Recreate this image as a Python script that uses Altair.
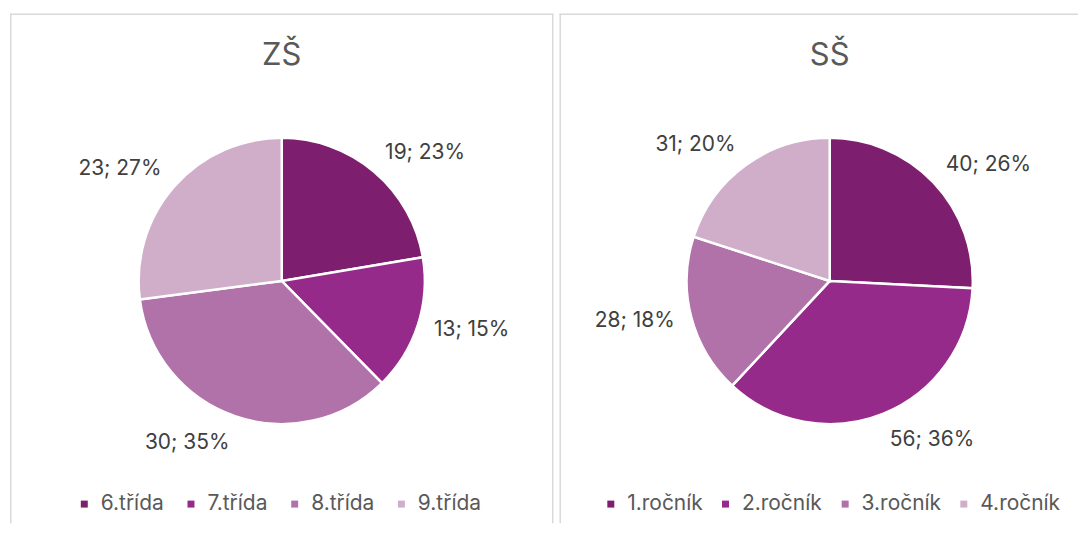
import altair as alt
import pandas as pd

# ---- data ----
zs_title = "ZŠ"
zs_categories = ["6.třída", "7.třída", "8.třída", "9.třída"]
zs_values = [19, 13, 30, 23]
zs_labels = ["19; 23%", "13; 15%", "30; 35%", "23; 27%"]

ss_title = "SŠ"
ss_categories = ["1.ročník", "2.ročník", "3.ročník", "4.ročník"]
ss_values = [40, 56, 28, 31]
ss_labels = ["40; 26%", "56; 36%", "28; 18%", "31; 20%"]

palette = ["#7D1F6E", "#962A8A", "#B072A8", "#D0AECA"]

FONT = "Inter"
W1, W2, H = 545, 520, 515
CX, CY = 272.5, 272
R = 143.5
BORDER = "#D9D9D9"

ALIGN = alt.ExprRef(expr="sin(datum.mid) > 0 ? 'left' : 'right'")
BASELINE = alt.ExprRef(
    expr="abs(cos(datum.mid)) < 0.35 ? 'middle' : (cos(datum.mid) > 0 ? 'alphabetic' : 'top')"
)


def panel(title, cats, vals, labels, width, field, legend_x, col_pad, cx):
    df = pd.DataFrame({field: cats, "value": vals, "label": labels,
                       "idx": list(range(len(cats)))})
    base = alt.Chart(df)
    color = alt.Color(
        f"{field}:N",
        sort=cats,
        scale=alt.Scale(domain=cats, range=palette),
        legend=alt.Legend(
            title=None, orient="none", legendX=legend_x, legendY=485,
            direction="horizontal", columns=4, symbolType="square",
            symbolSize=49, symbolStrokeWidth=0, labelFontSize=21,
            labelFont=FONT, labelColor="#595959", labelOffset=6,
            columnPadding=col_pad, labelLimit=200,
        ),
    )
    arc = base.mark_arc(outerRadius=R, stroke="white", strokeWidth=2.5).encode(
        theta=alt.Theta("value:Q", stack=True),
        color=color,
        order=alt.Order("idx:Q"),
        x=alt.value(cx),
        y=alt.value(CY),
    )
    text = (
        base.transform_joinaggregate(total="sum(value)")
        .transform_window(cum="sum(value)", sort=[alt.SortField("idx")])
        .transform_calculate(mid="2 * PI * (datum.cum - datum.value / 2) / datum.total")
        .mark_text(fontSize=21, font=FONT, color="#404040", align=ALIGN, baseline=BASELINE)
        .encode(
            theta=alt.Theta("value:Q", stack=True),
            order=alt.Order("idx:Q"),
            radius=alt.value(R + 17),
            text="label:N",
            x=alt.value(cx),
            y=alt.value(CY),
        )
    )
    one = alt.Data(values=[{"t": title}])
    ttl = alt.Chart(one).mark_text(fontSize=31, font=FONT, color="#595959",
                                   baseline="middle").encode(
        text="t:N", x=alt.value(cx), y=alt.value(46))
    left = alt.Chart(one).mark_rule(color=BORDER, strokeWidth=1.5).encode(
        x=alt.value(0.75), y=alt.value(4), y2=alt.value(H))
    top = alt.Chart(one).mark_rule(color=BORDER, strokeWidth=1.5).encode(
        x=alt.value(0), x2=alt.value(width), y=alt.value(4.5))
    layers = [left, top, arc, text, ttl]
    if width == W1:
        right = alt.Chart(one).mark_rule(color=BORDER, strokeWidth=1.5).encode(
            x=alt.value(width - 0.75), y=alt.value(4), y2=alt.value(H))
        layers.insert(2, right)
    return alt.layer(*layers).properties(width=width, height=H)


zs = panel(zs_title, zs_categories, zs_values, zs_labels, W1, "trida", 64, 16, 272.5)
ss = panel(ss_title, ss_categories, ss_values, ss_labels, W2, "rocnik", 41, 12, 271)

chart = (
    alt.hconcat(zs, ss, spacing=2)
    .resolve_scale(color="independent")
    .properties(padding=0)
    .configure_view(stroke="transparent")
)

chart.save("out.html", embed_options={"renderer": "svg", "actions": False})
